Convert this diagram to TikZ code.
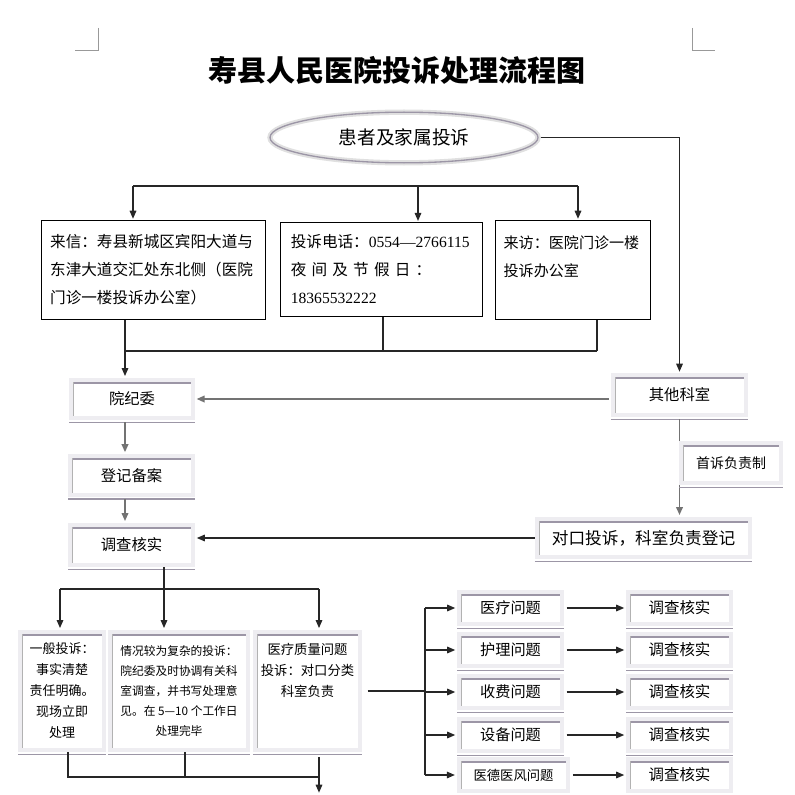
\documentclass[tikz,border=0pt]{standalone}
\usepackage{fontspec}
\setmainfont{Liberation Serif}
\newfontfamily\cjk{Noto Sans CJK SC}
\usetikzlibrary{arrows.meta,positioning,calc,shapes.geometric}

\definecolor{frameg}{RGB}{238,237,241}
\definecolor{bevel}{RGB}{156,150,166}
\newcommand\fs[2]{\fontsize{#1}{#2}\selectfont}

\begin{document}
\begin{tikzpicture}[
    x=0.75pt, y=-0.75pt,
    >={Triangle[length=6pt,width=5pt]},
    line/.style={black!85, line width=0.8pt},
    arr/.style={->, black!85, line width=0.8pt, shorten >=1pt},
    garr/.style={->, black!55, line width=1.2pt, shorten >=1.5pt, shorten <=1.5pt},
    pbox/.style={draw, line width=0.9pt, fill=white, inner sep=0pt,
                 font=\cjk\fs{11.7}{21}},
    gbox/.style={draw=frameg, line width=3pt, fill=white, inner sep=0pt,
                 font=\cjk\fs{11.5}{14},
      path picture={
        \draw[bevel, line width=6pt] (path picture bounding box.north west)
          -- (path picture bounding box.north east);
        \draw[black!30, line width=4pt] (path picture bounding box.north west)
          -- (path picture bounding box.south west);},
      append after command={([yshift=-1.6pt]\tikzlastnode.south west)
        edge[bevel, line width=0.8pt] ([yshift=-1.6pt]\tikzlastnode.south east)}},
    qbox/.style={gbox, minimum width=77pt, minimum height=24pt, font=\cjk\fs{11.4}{14}},
  ]

  \fill[white] (0,0) rectangle (794,795);
  \useasboundingbox (0,0) rectangle (794,795);

  % page corner marks
  \draw[black!40, line width=0.6pt] (98,28) -- (98,50) -- (75,50);
  \draw[black!40, line width=0.6pt] (692,28) -- (692,50) -- (715,50);

  \node[font=\cjk\bfseries\fs{21.75}{26}] (title) at (397,70) {寿县人民医院投诉处理流程图};

  \node[ellipse, draw=black!12, line width=4pt, minimum width=201pt, minimum height=38pt,
        inner sep=0pt, fill=white, font=\cjk\fs{14}{16},
        postaction={draw=bevel, line width=1pt}] (pt) at (404,137.5) {患者及家属投诉};

  % --- three ways to complain ---
  \node[pbox, minimum width=168pt, minimum height=74pt, text width=155pt, align=left]
    (b1) at (153.5,270) {来信：寿县新城区宾阳大道与\\东津大道交汇处东北侧（医院\\门诊一楼投诉办公室）};
  \node[pbox, minimum width=151pt, minimum height=70pt, text width=136pt, align=left]
    (b2) at (381.5,269.5) {投诉电话：{\rmfamily 0554—2766115}\\\makebox[136pt][s]{夜 间 及 节 假 日 ：}\\{\rmfamily 18365532222}};
  \node[pbox, minimum width=116pt, minimum height=74pt, text width=104pt, align=left,
        font=\cjk\fs{11.3}{21}]
    (b3) at (573,270) {来访：医院门诊一楼\\投诉办公室\\\mbox{}};

  % --- left chain ---
  \node[gbox, minimum width=91pt, minimum height=28.5pt] (yjw) at (132,399) {院纪委};
  \node[gbox, minimum width=92pt, minimum height=29pt] (djba) at (131.5,475.5) {登记备案};
  \node[gbox, minimum width=92pt, minimum height=30pt] (dchs) at (131.5,545) {调查核实};

  % --- right chain ---
  \node[gbox, minimum width=100pt, minimum height=30pt] (qtks) at (679.5,395) {其他科室};
  \node[gbox, minimum width=160pt, minimum height=28.5pt, font=\cjk\fs{12.5}{14}]
    (dkts) at (643.5,538) {对口投诉，科室负责登记};

  % --- three kinds of complaint ---
  \node[gbox, minimum width=63pt, minimum height=88.5pt, align=center,
        font=\cjk\fs{9.75}{15.75}]
    (ya) at (62,691) {一般投诉：\\事实清楚\\责任明确。\\现场立即\\处理};
  \node[gbox, minimum width=103.5pt, minimum height=88.5pt, align=center,
        font=\cjk\fs{8.8}{15}]
    (yb) at (179,691) {情况较为复杂的投诉：\\院纪委及时协调有关科\\室调查，并书写处理意\\见。在 5—10 个工作日\\处理完毕};
  \node[gbox, minimum width=79pt, minimum height=88.5pt, align=center,
        font=\cjk\fs{10}{15.75}]
    (yc) at (307.5,691) {医疗质量问题\\投诉：对口分类\\科室负责\\\mbox{}\\\mbox{}};

  % --- problem types and checks ---
  \node[qbox] (p1) at (510.5,608) {医疗问题};
  \node[qbox] (p2) at (510.5,650) {护理问题};
  \node[qbox] (p3) at (510.5,692) {收费问题};
  \node[qbox] (p4) at (510.5,735) {设备问题};
  \node[qbox, minimum width=82pt, font=\cjk\fs{10}{14}] (p5) at (513.5,775) {医德医风问题};

  \node[qbox, font=\cjk\fs{11.6}{14}] (c1) at (679.5,608) {调查核实};
  \node[qbox, font=\cjk\fs{11.6}{14}] (c2) at (679.5,650) {调查核实};
  \node[qbox, font=\cjk\fs{11.6}{14}] (c3) at (679.5,692) {调查核实};
  \node[qbox, font=\cjk\fs{11.6}{14}] (c4) at (679.5,735) {调查核实};
  \node[qbox, font=\cjk\fs{11.6}{14}] (c5) at (679.5,775) {调查核实};

  % --- top split ---
  \coordinate (s1) at (133,186);
  \coordinate (s2) at (418,186);
  \coordinate (s3) at (578,186);
  \draw[line] (s1) -- (s3);
  \draw[arr] (s1) -- (s1 |- b1.north);
  \draw[arr] (s2) -- (s2 |- b2.north);
  \draw[arr] (s3) -- (s3 |- b3.north);
  \draw[arr] (pt.east) -| (qtks.north);

  % --- merge below the three ways ---
  \coordinate (m1) at (125,351);
  \coordinate (m2) at (383,351);
  \coordinate (m3) at (597,351);
  \draw[line] (m1) -- (m3);
  \draw[line] (m2 |- b2.south) -- (m2);
  \draw[line] (m3 |- b3.south) -- (m3);
  \draw[arr, shorten >=1.5pt] (m1 |- b1.south) -- (m1 |- yjw.north);
  \draw[garr] (m1 |- yjw.south) -- (m1 |- djba.north);
  \draw[garr] (m1 |- djba.south) -- (m1 |- dchs.north);

  \draw[garr] (qtks.west |- yjw.east) -- (yjw.east);
  \draw[garr] (qtks.south) -- (qtks.south |- dkts.north);
  \draw[arr, shorten >=1.5pt] (dkts.west) -- (dchs.east |- dkts.west);

  % first-contact box sits on the vertical line
  \node[gbox, minimum width=75pt, minimum height=30pt, font=\cjk\fs{10.5}{14}]
    (sszr) at (731,463) {首诉负责制};

  % --- lower split ---
  \coordinate (t1) at (60,589);
  \coordinate (t2) at (164,589);
  \coordinate (t3) at (319,589);
  \draw[line] (t1) -- (t3);
  \draw[line] (t2 |- dchs.south) -- (t2);
  \draw[arr, shorten >=1.5pt] (t1) -- (t1 |- ya.north);
  \draw[arr, shorten >=1.5pt] (t2) -- (t2 |- yb.north);
  \draw[arr, shorten >=1.5pt] (t3) -- (t3 |- yc.north);

  % --- lower merge ---
  \coordinate (u1) at (68,777);
  \coordinate (u2) at (185,777);
  \coordinate (u3) at (319,777);
  \coordinate (out) at (319,794);
  \draw[line] (u1 |- ya.south) -- (u1) -- (u3);
  \draw[line] (u2 |- yb.south) -- (u2);
  \draw[arr] ([yshift=-4pt]u3 |- yc.south) -- (out);

  % --- fan to problem types ---
  \coordinate (fan) at (425,0);
  \draw[line] ([xshift=4pt]yc.east) -- (fan |- yc.east);
  \draw[line] (fan |- p1.west) -- (fan |- p5.west);
  \draw[arr, shorten >=1.5pt] (fan |- p1.west) -- (p1.west);
  \draw[arr, shorten >=1.5pt] (fan |- p2.west) -- (p2.west);
  \draw[arr, shorten >=1.5pt] (fan |- p3.west) -- (p3.west);
  \draw[arr, shorten >=1.5pt] (fan |- p4.west) -- (p4.west);
  \draw[arr, shorten >=1.5pt] (fan |- p5.west) -- (p5.west);

  \draw[arr, shorten >=1.5pt] ([xshift=2pt]p1.east) -- (c1.west);
  \draw[arr, shorten >=1.5pt] ([xshift=2pt]p2.east) -- (c2.west);
  \draw[arr, shorten >=1.5pt] ([xshift=2pt]p3.east) -- (c3.west);
  \draw[arr, shorten >=1.5pt] ([xshift=2pt]p4.east) -- (c4.west);
  \draw[arr, shorten >=1.5pt] ([xshift=2pt]p5.east) -- (c5.west);

\end{tikzpicture}
\end{document}
